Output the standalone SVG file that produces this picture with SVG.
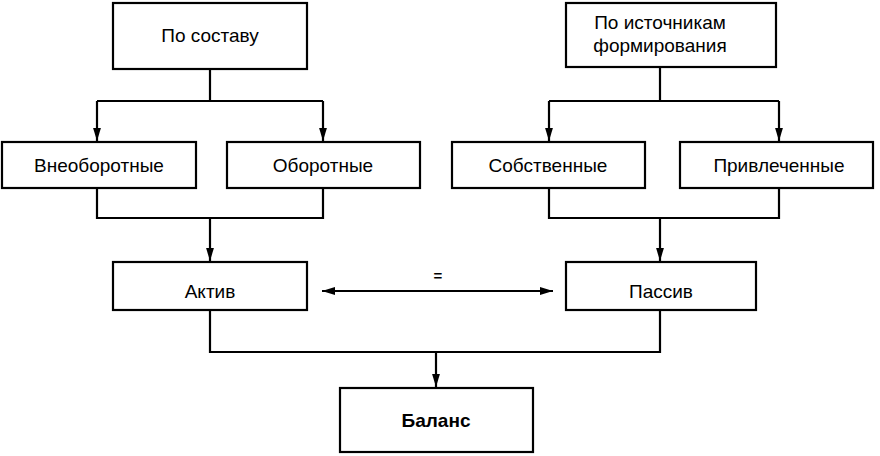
<svg xmlns="http://www.w3.org/2000/svg" width="880" height="456" viewBox="0 0 880 456">
<style>
rect{fill:#fff;stroke:#000;stroke-width:2.2}
text{font-family:"Liberation Sans",Arial,sans-serif;font-size:19px;text-anchor:middle;fill:#000}
.c{fill:none;stroke:#000;stroke-width:2.2}
</style>
<defs><marker id="b" viewBox="0 0 10 10" refX="10" refY="5" markerWidth="13" markerHeight="13" orient="auto-start-reverse" markerUnits="userSpaceOnUse"><path d="M0,2 L10,5 L0,8 z" fill="#000"/></marker></defs>
<g id="connectors">
<path class="c" d="M210,69V101M97,101H323"/>
<path class="c" d="M97,101V141" marker-end="url(#b)"/><path class="c" d="M323,101V141" marker-end="url(#b)"/>
<path class="c" d="M660,67V101M549,101H779"/>
<path class="c" d="M549,101V141" marker-end="url(#b)"/><path class="c" d="M779,101V141" marker-end="url(#b)"/>
<path class="c" d="M97,188V218H323V188M549,188V218H779V188"/>
<path class="c" d="M210,218V261" marker-end="url(#b)"/><path class="c" d="M660,218V261" marker-end="url(#b)"/>
<path class="c" d="M322,291H553" marker-start="url(#b)" marker-end="url(#b)"/>
<path class="c" d="M210,310V352H660V310"/>
<path class="c" d="M436,352V387" marker-end="url(#b)"/>
<text x="438" y="281" style="font-size:15px;font-weight:bold">=</text>
</g>
<g id="n1"><rect x="113" y="3" width="194" height="66"/><text x="210" y="42">По составу</text></g>
<g id="n2"><rect x="566" y="3" width="210" height="64"/><text x="660" y="29">По источникам</text><text x="660" y="52">формирования</text></g>
<g id="n3"><rect x="2" y="142" width="194" height="46"/><text x="99" y="172">Внеоборотные</text></g>
<g id="n4"><rect x="227" y="142" width="193" height="46"/><text x="323" y="172">Оборотные</text></g>
<g id="n5"><rect x="452" y="142" width="193" height="46"/><text x="548" y="172">Собственные</text></g>
<g id="n6"><rect x="680" y="142" width="193" height="46"/><text x="779" y="172">Привлеченные</text></g>
<g id="n7"><rect x="113" y="262" width="194" height="48"/><text x="210" y="298">Актив</text></g>
<g id="n8"><rect x="566" y="262" width="190" height="48"/><text x="661" y="298">Пассив</text></g>
<g id="n9"><rect x="340" y="388" width="193" height="64"/><text x="436" y="427" style="font-weight:bold">Баланс</text></g>
</svg>
